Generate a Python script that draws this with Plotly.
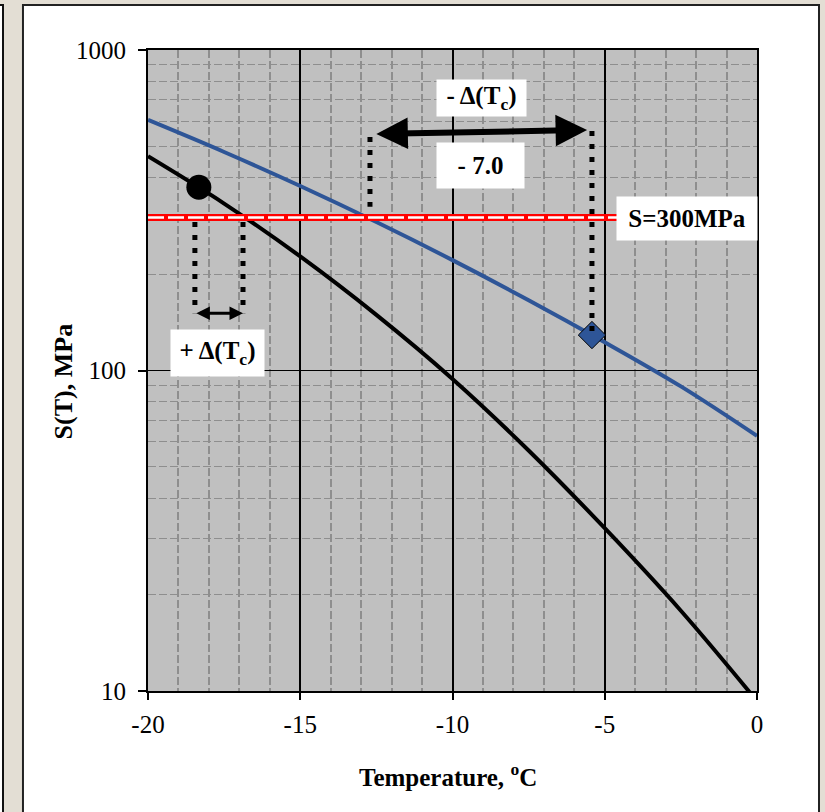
import numpy as np
import plotly.graph_objects as go

# ---- data ----
temp_blue = [-20, -17.5, -15, -12.5, -10, -7.5, -5, -2.5, 0]
s_blue = [605, 480.6, 376.4, 290.5, 221.0, 165.7, 122.5, 89.2, 62.5]

temp_black = [-20, -17.5, -15, -12.5, -10, -7.5, -5, -2.5, 0]
s_black = [466, 331.8, 226.9, 149.1, 94.1, 56.3, 32.2, 17.8, 9.3]

ref_stress = 300
ref_temp_span = [-20, 0]

circle_T, circle_S = [-18.33], [373]
diamond_T, diamond_S = [-5.42], [129]

# dotted guide lines (T, S-start, S-end)
dot_left_T, dot_left_S = [-12.71, -12.71], [535, 324]
dot_right_T, dot_right_S = [-5.42, -5.42], [559, 129]
dot_b1_T, dot_b1_S = [-18.46, -18.46], [290.6, 151]
dot_b2_T, dot_b2_S = [-16.88, -16.88], [290.6, 151]

# arrows (T tail, T head, S tail, S head)
big_arrow_T, big_arrow_S = [-12.55, -5.58], [547, 563]
small_arrow_T, small_arrow_S = [-18.46, -16.88], [151, 151]

# text boxes: (text, T, S)
lbl_minus_delta = ("<b>- Δ(T<sub>c</sub>)</b>", -9.05, 708.4)
lbl_minus_val = ("<b>- 7.0</b>", -9.08, 436.2)
lbl_ref = ("<b>S=300MPa</b>", -2.30, 299.0)
lbl_plus_delta = ("<b>+ Δ(T<sub>c</sub>)</b>", -17.71, 113.4)

x_ticks = [-20, -15, -10, -5, 0]
y_ticks = [10, 100, 1000]

FONT = "Liberation Serif, Times New Roman, serif"
BLUE = "#2E5597"

fig = go.Figure()
fig.add_trace(go.Scatter(x=temp_blue, y=s_blue, mode="lines", line=dict(color=BLUE, width=4, shape="spline", smoothing=1.0)))
fig.add_trace(go.Scatter(x=temp_black, y=s_black, mode="lines", line=dict(color="black", width=4, shape="spline", smoothing=1.0)))
# reference stress line: red band with white dashes
fig.add_trace(go.Scatter(x=ref_temp_span, y=[ref_stress, ref_stress], mode="lines", line=dict(color="#FF0000", width=7)))
fig.add_trace(go.Scatter(x=ref_temp_span, y=[ref_stress, ref_stress], mode="lines", line=dict(color="white", width=2.5, dash="16px,4px")))
# markers
fig.add_trace(go.Scatter(x=circle_T, y=circle_S, mode="markers", marker=dict(symbol="circle", size=25, color="black")))
fig.add_trace(go.Scatter(x=diamond_T, y=diamond_S, mode="markers", marker=dict(symbol="diamond", size=21, color=BLUE, line=dict(color="black", width=1))))
# dotted guides
for tx, sy in [(dot_left_T, dot_left_S), (dot_right_T, dot_right_S), (dot_b1_T, dot_b1_S), (dot_b2_T, dot_b2_S)]:
    fig.add_trace(go.Scatter(x=tx, y=sy, mode="lines", line=dict(color="black", width=5, dash="5px,8px")))

annos = []
# arrows
annos.append(dict(x=big_arrow_T[1], y=np.log10(big_arrow_S[1]), ax=big_arrow_T[0], ay=np.log10(big_arrow_S[0]),
                  xref="x", yref="y", axref="x", ayref="y", text="", showarrow=True,
                  arrowhead=2, startarrowhead=2, arrowside="end+start", arrowwidth=6,
                  arrowsize=1.05, startarrowsize=1.05, arrowcolor="black", standoff=0, startstandoff=0))
annos.append(dict(x=small_arrow_T[1], y=np.log10(small_arrow_S[1]), ax=small_arrow_T[0], ay=np.log10(small_arrow_S[0]),
                  xref="x", yref="y", axref="x", ayref="y", text="", showarrow=True,
                  arrowhead=2, startarrowhead=2, arrowside="end+start", arrowwidth=3,
                  arrowsize=0.9, startarrowsize=0.9, arrowcolor="black", standoff=0, startstandoff=0))
# text boxes
for (txt, tx, sy), (w, h) in [(lbl_minus_delta, (89, 36)), (lbl_minus_val, (87, 45)), (lbl_ref, (140, 43)), (lbl_plus_delta, (93, 46))]:
    annos.append(dict(x=tx, y=np.log10(sy), xref="x", yref="y", text=txt, showarrow=False,
                      bgcolor="white", width=w, height=h, borderpad=0,
                      font=dict(family=FONT, size=25, color="black")))
# axis titles
annos.append(dict(x=0.4934, y=-0.131, xref="paper", yref="paper", xanchor="center", yanchor="middle",
                  text="<b>Temperature, <sup>o</sup>C</b>",
                  showarrow=False, font=dict(family=FONT, size=25, color="black")))
annos.append(dict(x=-0.1396, y=0.483, xref="paper", yref="paper", xanchor="center", yanchor="middle",
                  text="<b>S(T), MPa</b>", textangle=-90,
                  showarrow=False, font=dict(family=FONT, size=26, color="black")))

# page frame shapes (paper coordinates)
shapes = [
    dict(type="rect", xref="paper", yref="paper", x0=-0.2053, x1=1.1018, y0=-0.25, y1=1.0702,
         fillcolor="white", line=dict(color="#222222", width=2), layer="below"),
    dict(type="rect", xref="paper", yref="paper", x0=-0.30, x1=-0.2381, y0=-0.25, y1=1.0702,
         fillcolor="white", line=dict(color="#111111", width=2), layer="below"),
    dict(type="rect", xref="paper", yref="paper", x0=0, x1=1, y0=0, y1=1,
         fillcolor="#C0C0C0", line=dict(width=0), layer="below"),
]

fig.update_layout(
    width=825, height=812,
    margin=dict(l=148, r=68, t=50, b=121),
    paper_bgcolor="#E3DED4",
    plot_bgcolor="#C0C0C0",
    showlegend=False,
    annotations=annos,
    shapes=shapes,
    font=dict(family=FONT, color="black"),
)
fig.update_xaxes(
    range=[-20, 0], tickvals=x_ticks, ticktext=[str(v) for v in x_ticks],
    ticks="outside", ticklen=7, tickwidth=1.5, tickcolor="black",
    tickfont=dict(family=FONT, size=25, color="black"), ticklabelstandoff=3,
    showline=True, linecolor="black", linewidth=2, mirror=True,
    showgrid=True, gridcolor="black", gridwidth=2, zeroline=False,
    minor=dict(dtick=1, showgrid=True, gridcolor="#8E8E8E", gridwidth=2, griddash="8px,3px"),
)
fig.update_yaxes(
    type="log", range=[1, 3], tickvals=y_ticks, ticktext=[str(v) for v in y_ticks],
    ticks="outside", ticklen=8, tickwidth=1.5, tickcolor="black",
    tickfont=dict(family=FONT, size=25, color="black"), ticklabelstandoff=7,
    showline=True, linecolor="black", linewidth=2, mirror=True,
    showgrid=True, gridcolor="black", gridwidth=1, zeroline=False,
    minor=dict(dtick="D1", showgrid=True, gridcolor="#8E8E8E", gridwidth=1, griddash="8px,3px"),
)

fig.write_html("out.html")
